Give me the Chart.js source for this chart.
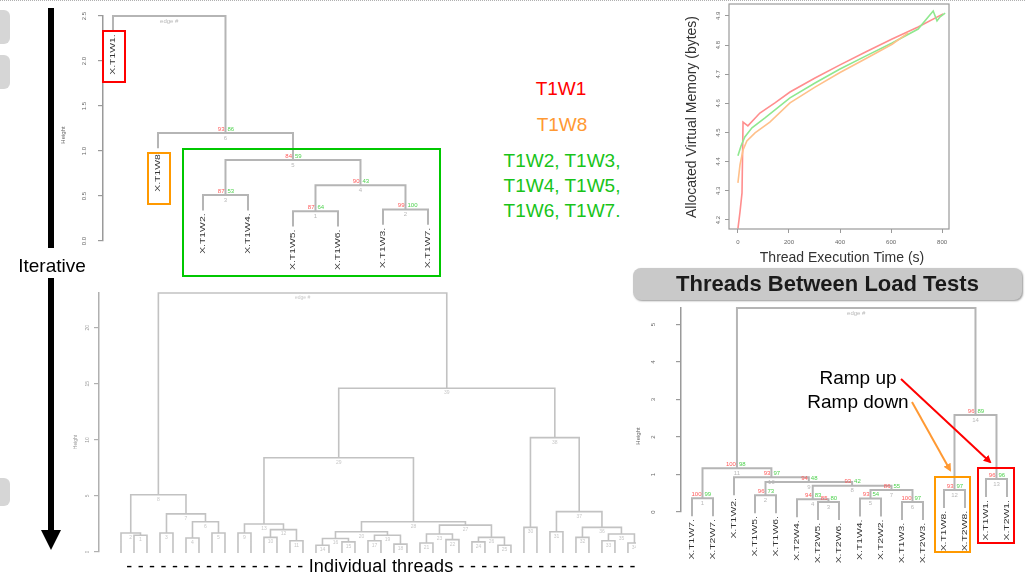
<!DOCTYPE html>
<html>
<head>
<meta charset="utf-8">
<script src="https://cdn.jsdelivr.net/npm/chart.js@4.4.0/dist/chart.umd.min.js"></script>
<style>
  body { margin: 0; width: 1025px; height: 578px; overflow: hidden; position: relative; background: #fff;
         font-family: Arial, "Liberation Sans", sans-serif; }
  canvas { position: absolute; }
  .txt { position: absolute; white-space: nowrap; line-height: 1; transform: translate(-50%, -50%); }
  .box { position: absolute; box-sizing: border-box; }
  .tab { position: absolute; background: #d6d6d6; border-radius: 0 6px 6px 0; }
</style>
</head>
<body>

<div style="position:absolute;left:0;top:0;width:1025px;border-top:1px dotted #b0b0b0;"></div>
<div class="tab" style="left:0;top:10px;width:10px;height:34px;"></div>
<div class="tab" style="left:0;top:55px;width:10px;height:34px;"></div>
<div class="tab" style="left:0;top:478px;width:10px;height:28px;"></div>

<canvas id="dendroTop" width="390" height="285" style="left:55px;top:0px;"></canvas>
<canvas id="memChart" width="275" height="270" style="left:680px;top:0px;"></canvas>
<canvas id="dendroAll" width="570" height="268" style="left:66px;top:285px;"></canvas>
<canvas id="dendroPair" width="395" height="283" style="left:630px;top:295px;"></canvas>

<!-- iterative arrow -->
<div style="position:absolute;left:48px;top:8px;width:6px;height:240px;background:#000;"></div>
<div style="position:absolute;left:48px;top:278px;width:6px;height:254px;background:#000;"></div>
<div style="position:absolute;left:41px;top:530px;width:0;height:0;border-left:10px solid transparent;border-right:10px solid transparent;border-top:20px solid #000;"></div>
<div class="txt" style="left:52px;top:265px;font-size:19px;color:#000;">Iterative</div>

<!-- cluster legend text -->
<div class="txt" style="left:561px;top:88px;font-size:19px;color:#ff0000;">T1W1</div>
<div class="txt" style="left:562px;top:124px;font-size:19px;color:#ff9933;">T1W8</div>
<div class="txt" style="left:562px;top:160px;font-size:19px;color:#19c419;">T1W2, T1W3,</div>
<div class="txt" style="left:562px;top:185px;font-size:19px;color:#19c419;">T1W4, T1W5,</div>
<div class="txt" style="left:562px;top:210px;font-size:19px;color:#19c419;">T1W6, T1W7.</div>

<div class="box" style="left:102px;top:30px;width:24px;height:53px;border:2px solid #ff0000;"></div>
<div class="box" style="left:147px;top:152px;width:24px;height:53px;border:2px solid #ff9900;"></div>
<div class="box" style="left:182px;top:148px;width:259px;height:129px;border:2px solid #00c800;"></div>

<div style="position:absolute;left:633px;top:268px;width:389px;height:32px;border-radius:8px;background:#c9c9c9;box-shadow:1px 1px 2px #999;
            font-weight:bold;font-size:22px;color:#1a1a1a;text-align:center;line-height:32px;">Threads Between Load Tests</div>

<div class="box" style="left:934px;top:476px;width:37px;height:77px;border:2.5px solid #ff9900;"></div>
<div class="box" style="left:977px;top:467px;width:38px;height:77px;border:2.5px solid #ff0000;"></div>
<div class="txt" style="left:858px;top:377px;font-size:19px;color:#000;">Ramp up</div>
<div class="txt" style="left:858px;top:401px;font-size:19px;color:#000;">Ramp down</div>

<svg width="1025" height="578" style="position:absolute;left:0;top:0;pointer-events:none;">
  <defs>
    <marker id="hr" markerWidth="8" markerHeight="8" refX="6" refY="4" orient="auto" markerUnits="userSpaceOnUse">
      <path d="M0,0 L8,4 L0,8 z" fill="#ff0000"/>
    </marker>
    <marker id="ho" markerWidth="8" markerHeight="8" refX="6" refY="4" orient="auto" markerUnits="userSpaceOnUse">
      <path d="M0,0 L8,4 L0,8 z" fill="#ff9933"/>
    </marker>
  </defs>
  <line x1="901" y1="379" x2="990" y2="462" stroke="#ff0000" stroke-width="2" marker-end="url(#hr)"/>
  <line x1="912" y1="402" x2="950" y2="470" stroke="#ff9933" stroke-width="2" marker-end="url(#ho)"/>
</svg>

<div class="txt" style="left:381px;top:566px;font-size:18px;letter-spacing:0.2px;color:#000;">- - - - - - - - - - - - - - - - Individual threads - - - - - - - - - - - - - - - -</div>

<script>
// ---- top-left dendrogram: threads of one load test
const topLeaves = ["X.T1W1.", "X.T1W8.", "X.T1W2.", "X.T1W4.", "X.T1W5.", "X.T1W6.", "X.T1W3.", "X.T1W7."];
const topMerges = [[-5, -6], [-7, -8], [-3, -4], [1, 2], [3, 4], [-2, 5], [-1, 6]];
const topHeights = [0.33, 0.35, 0.51, 0.62, 0.90, 1.20, 2.50];
const topAU = [87, 99, 87, 90, 84, 93, null];
const topBP = [64, 100, 53, 43, 59, 86, null];
const topTicks = [0, 0.5, 1, 1.5, 2, 2.5];

// ---- bottom-right dendrogram: threads between load tests
const pairLeaves = ["X.T1W7.", "X.T2W7.", "X.T1W2.", "X.T1W5.", "X.T1W6.", "X.T2W4.", "X.T2W5.", "X.T2W6.",
                    "X.T1W4.", "X.T2W2.", "X.T1W3.", "X.T2W3.", "X.T1W8.", "X.T2W8.", "X.T1W1.", "X.T2W1."];
const pairMerges = [[-1, -2], [-4, -5], [-7, -8], [-6, 3], [-9, -10], [-11, -12], [5, 6], [4, 7],
                    [2, 8], [-3, 9], [1, 10], [-13, -14], [-15, -16], [12, 13], [11, 14]];
const pairHeights = [0.37, 0.45, 0.27, 0.34, 0.36, 0.27, 0.59, 0.70, 0.80, 0.93, 1.17, 0.59, 0.88, 2.59, 5.44];
const pairAU = [100, 96, 85, 94, 93, 100, 86, 93, 94, 93, 100, 93, 96, 96, null];
const pairBP = [99, 73, 80, 83, 54, 97, 55, 42, 48, 97, 98, 97, 96, 89, null];
const pairTicks = [0, 1, 2, 3, 4, 5];

// ---- bottom-left dendrogram: all individual threads (leaves cut off)
const allMerges = [[-2, -3], [-1, 1], [-4, -5], [-6, -7], [-8, -9], [4, 5], [3, 6], [2, 7],
                   [-10, -11], [-12, -13], [-14, -15], [10, 11], [9, 12],
                   [-16, -17], [-18, -19], [14, 15], [-20, -21], [-22, -23], [17, 18], [16, 19],
                   [-24, -25], [-26, -27], [21, 22], [-28, -29], [-30, -31], [24, 25], [23, 26], [20, 27],
                   [13, 28], [-32, -33], [-34, -35], [-36, -37], [-38, -39], [-40, -41], [33, 34], [32, 35],
                   [31, 36], [30, 37], [29, 38], [8, 39]];
const allHeights = [1.5, 1.7, 1.7, 1.25, 1.7, 2.7, 3.4, 5.1,
                    1.7, 1.3, 1.0, 2.0, 2.5,
                    0.6, 0.9, 1.2, 1.0, 0.7, 1.5, 1.8,
                    0.8, 1.1, 1.6, 0.9, 0.6, 1.3, 2.4, 2.7,
                    8.4, 2.2, 1.8, 1.3, 1.0, 0.8, 1.6, 2.2,
                    3.6, 10.2, 14.6, 23.1];
const allTicks = [0, 5, 10, 15, 20];

// ---- top-right line chart: allocated virtual memory over time
const memTimeTicks = [0, 200, 400, 600, 800];
const memTicks = [4.2, 4.3, 4.4, 4.5, 4.6, 4.7, 4.8, 4.9];
const redTime = [0, 8, 16, 20, 39, 86, 145, 204, 302, 400, 502, 604, 706, 804];
const redMem = [4.17, 4.227, 4.293, 4.536, 4.523, 4.567, 4.602, 4.639, 4.687, 4.732, 4.777, 4.821, 4.862, 4.907];
const greenTime = [0, 12, 27, 55, 106, 204, 302, 400, 502, 604, 706, 765, 780, 792, 812];
const greenMem = [4.42, 4.454, 4.485, 4.516, 4.55, 4.619, 4.67, 4.718, 4.763, 4.807, 4.855, 4.917, 4.883, 4.897, 4.91];
const orangeTime = [0, 8, 20, 35, 67, 125, 204, 302, 400, 502, 604, 667];
const orangeMem = [4.327, 4.389, 4.44, 4.471, 4.499, 4.536, 4.602, 4.656, 4.706, 4.754, 4.803, 4.842];

// build the U-shaped links of a dendrogram, leaves sit at x = 0, 1, 2 ...
function buildTree(merges, heights, hang) {
  const pos = [], segs = [], leafEnds = [];
  const nodeX = c => (c < 0 ? -c - 1 : pos[c - 1]);
  merges.forEach(([a, b], i) => {
    const h = heights[i];
    const ya = a < 0 ? h - hang : heights[a - 1];
    const yb = b < 0 ? h - hang : heights[b - 1];
    const xa = nodeX(a), xb = nodeX(b);
    segs.push({x: xa, y: ya}, {x: xa, y: h}, {x: xb, y: h}, {x: xb, y: yb}, {x: xb, y: null});
    if (a < 0) leafEnds[-a - 1] = ya;
    if (b < 0) leafEnds[-b - 1] = yb;
    pos.push((xa + xb) / 2);
  });
  return {segs, pos, leafEnds};
}

const extra = {};

const dendroText = {
  id: 'dendroText',
  afterDatasetsDraw(chart) {
    const d = extra[chart.canvas.id];
    if (!d || !d.tree) return;
    const {ctx} = chart;
    const x = chart.scales.x, y = chart.scales.y;
    const t = d.tree;
    ctx.save();
    if (d.leaves) {
      ctx.fillStyle = d.leafColor;
      ctx.font = d.leafFont;
      ctx.textAlign = 'right';
      ctx.textBaseline = 'middle';
      d.leaves.forEach((name, i) => {
        ctx.save();
        ctx.translate(x.getPixelForValue(i), y.getPixelForValue(t.leafEnds[i]) + d.leafGap);
        ctx.rotate(-Math.PI / 2);
        ctx.scale(d.leafStretch, 1);
        ctx.fillText(name, 0, 0);
        ctx.restore();
      });
    }
    ctx.font = d.numFont;
    t.pos.forEach((xv, i) => {
      const px = x.getPixelForValue(xv), py = y.getPixelForValue(d.heights[i]);
      const root = i === t.pos.length - 1;
      if (d.au && d.au[i] != null) {
        ctx.textBaseline = 'bottom';
        ctx.textAlign = 'right';
        ctx.fillStyle = d.auColor;
        ctx.fillText(String(d.au[i]), px - 1, py - 1);
        ctx.textAlign = 'left';
        ctx.fillStyle = d.bpColor;
        ctx.fillText(String(d.bp[i]), px + 2, py - 1);
      }
      ctx.textBaseline = 'top';
      ctx.textAlign = 'center';
      ctx.fillStyle = d.edgeColor;
      ctx.fillText(root ? d.rootLabel : String(i + 1), px, py + 2);
    });
    ctx.restore();
  }
};

const rAxis = {
  id: 'rAxis',
  afterDraw(chart) {
    const a = extra[chart.canvas.id];
    if (!a) return;
    const {ctx, chartArea} = chart;
    const y = chart.scales.y;
    ctx.save();
    if (a.box) {
      ctx.strokeStyle = a.boxColor;
      ctx.lineWidth = 1.2;
      ctx.strokeRect(chartArea.left, chartArea.top, chartArea.right - chartArea.left, chartArea.bottom - chartArea.top);
    }
    ctx.fillStyle = a.tickColor;
    ctx.font = a.tickFont;
    ctx.textAlign = 'center';
    ctx.textBaseline = 'middle';
    a.ticks.forEach(v => {
      ctx.save();
      ctx.translate(a.labelX, y.getPixelForValue(v));
      ctx.rotate(-Math.PI / 2);
      ctx.fillText(a.fmt(v), 0, 0);
      ctx.restore();
    });
    ctx.fillStyle = a.titleColor;
    ctx.font = a.titleFont;
    ctx.save();
    ctx.translate(a.titleX, a.titleY);
    ctx.rotate(-Math.PI / 2);
    ctx.fillText(a.title, 0, 0);
    ctx.restore();
    if (a.xTitle) ctx.fillText(a.xTitle, a.xTitleX, a.xTitleY);
    ctx.restore();
  }
};

function makeDendro(id, d) {
  d.tree = buildTree(d.merges, d.heights, d.hang);
  extra[id] = d;
  new Chart(document.getElementById(id), {
    type: 'scatter',
    data: {
      datasets: [{
        data: d.tree.segs,
        showLine: true,
        spanGaps: false,
        borderColor: d.lineColor,
        borderWidth: d.lineWidth,
        pointRadius: 0,
        clip: false
      }]
    },
    options: {
      responsive: false,
      animation: false,
      events: [],
      layout: {padding: d.padding},
      plugins: {legend: {display: false}, tooltip: {enabled: false}},
      scales: {
        x: {type: 'linear', display: false, min: d.xMin, max: d.xMax},
        y: {
          type: 'linear', min: 0, max: d.yMax,
          afterFit: s => { s.width = d.axisWidth; },
          afterBuildTicks: s => { s.ticks = d.ticks.map(v => ({value: v})); },
          ticks: {display: false},
          grid: {drawOnChartArea: false, tickLength: 5, color: d.axisColor, lineWidth: 1.2},
          border: {color: d.axisColor, width: 1.5}
        }
      }
    },
    plugins: [dendroText, rAxis]
  });
}

makeDendro('dendroTop', {
  leaves: topLeaves, merges: topMerges, heights: topHeights, au: topAU, bp: topBP, ticks: topTicks,
  hang: 0.17, yMax: 2.5, xMin: -0.222, xMax: 7.267, axisWidth: 48,
  padding: {top: 16, bottom: 44, left: 0, right: 5},
  lineColor: '#b5b5b5', lineWidth: 2, axisColor: '#9a9a9a',
  leafFont: '8px "Liberation Sans", Arial', leafColor: '#333', leafGap: 3, leafStretch: 1.3,
  numFont: '6px "Liberation Sans", Arial', auColor: '#ff5a5a', bpColor: '#4fd24f', edgeColor: '#b8b8b8',
  rootLabel: 'edge #',
  tickFont: '6px "Liberation Sans", Arial', tickColor: '#666', labelX: 29, fmt: v => v.toFixed(1),
  title: 'Height', titleX: 8, titleY: 135, titleFont: '6px "Liberation Sans", Arial', titleColor: '#666'
});

makeDendro('dendroPair', {
  leaves: pairLeaves, merges: pairMerges, heights: pairHeights, au: pairAU, bp: pairBP, ticks: pairTicks,
  hang: 0.48, yMax: 5.44, xMin: -0.524, xMax: 15.62, axisWidth: 51,
  padding: {top: 13, bottom: 66, left: 0, right: 5},
  lineColor: '#b5b5b5', lineWidth: 2, axisColor: '#9a9a9a',
  leafFont: '8px "Liberation Sans", Arial', leafColor: '#333', leafGap: 3, leafStretch: 1.3,
  numFont: '6px "Liberation Sans", Arial', auColor: '#ff5a5a', bpColor: '#4fd24f', edgeColor: '#b8b8b8',
  rootLabel: 'edge #',
  tickFont: '6px "Liberation Sans", Arial', tickColor: '#666', labelX: 23, fmt: v => String(v),
  title: 'Height', titleX: 8, titleY: 141, titleFont: '6px "Liberation Sans", Arial', titleColor: '#666'
});

makeDendro('dendroAll', {
  leaves: null, merges: allMerges, heights: allHeights, au: null, bp: null, ticks: allTicks,
  hang: 3.2, yMax: 23.1, xMin: -1.692, xMax: 39.62, axisWidth: 33,
  padding: {top: 8, bottom: 1, left: 0, right: 0},
  lineColor: '#c2c2c2', lineWidth: 1.6, axisColor: '#b0b0b0',
  numFont: '5px "Liberation Sans", Arial', edgeColor: '#c8c8c8', rootLabel: 'edge #',
  tickFont: '5px "Liberation Sans", Arial', tickColor: '#999', labelX: 22, fmt: v => String(v),
  title: 'Height', titleX: 10, titleY: 157, titleFont: '5px "Liberation Sans", Arial', titleColor: '#999'
});

// memory line chart
extra.memChart = {
  box: true, boxColor: '#9a9a9a',
  ticks: memTicks, labelX: 38, fmt: v => v.toFixed(1), tickFont: '6px "Liberation Sans", Arial', tickColor: '#666',
  title: 'Allocated Virtual Memory (bytes)', titleX: 12, titleY: 117,
  titleFont: '14px "Liberation Sans", Arial', titleColor: '#333',
  xTitle: 'Thread Execution Time (s)', xTitleX: 162, xTitleY: 258
};

const toPoints = (xs, ys) => xs.map((v, i) => ({x: v, y: ys[i]}));

new Chart(document.getElementById('memChart'), {
  type: 'scatter',
  data: {
    datasets: [
      {data: toPoints(orangeTime, orangeMem), borderColor: '#ffc08a'},
      {data: toPoints(greenTime, greenMem), borderColor: '#8fe88f'},
      {data: toPoints(redTime, redMem), borderColor: '#ff8e8e'}
    ].map(ds => Object.assign(ds, {showLine: true, pointRadius: 0, borderWidth: 1.6, tension: 0}))
  },
  options: {
    responsive: false,
    animation: false,
    events: [],
    layout: {padding: {top: 4, right: 6, left: 0, bottom: 0}},
    plugins: {legend: {display: false}, tooltip: {enabled: false}},
    scales: {
      x: {
        type: 'linear', min: -35, max: 827,
        afterFit: s => { s.height = 41; },
        afterBuildTicks: s => { s.ticks = memTimeTicks.map(v => ({value: v})); },
        ticks: {font: {size: 6}, color: '#666', padding: 6, maxRotation: 0},
        grid: {drawOnChartArea: false, tickLength: 4, color: '#9a9a9a'},
        border: {display: false}
      },
      y: {
        type: 'linear', min: 4.169, max: 4.941,
        afterFit: s => { s.width = 49; },
        afterBuildTicks: s => { s.ticks = memTicks.map(v => ({value: v})); },
        ticks: {display: false},
        grid: {drawOnChartArea: false, tickLength: 4, color: '#9a9a9a'},
        border: {display: false}
      }
    }
  },
  plugins: [rAxis]
});
</script>
</body>
</html>
